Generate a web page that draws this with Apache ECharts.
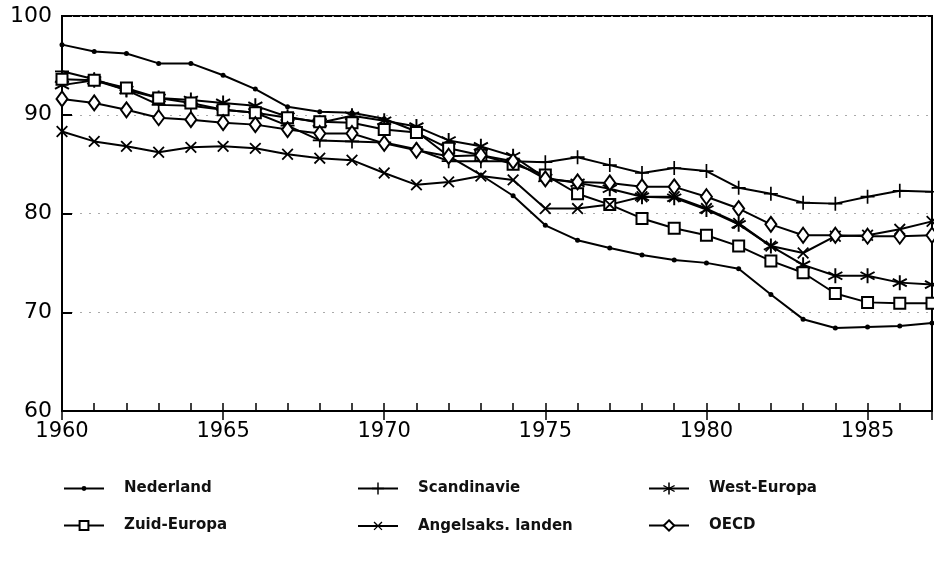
<!DOCTYPE html>
<html>
<head>
<meta charset="utf-8">
<script src="https://cdn.jsdelivr.net/npm/echarts@6/dist/echarts.min.js"></script>
<style>
  html, body { margin: 0; padding: 0; background: #fff; }
  #chart { width: 934px; height: 566px; }
</style>
</head>
<body>
<div id="chart"></div>
<script>
// jaren 1960 - 1987
const years = []
for (let y = 1960; y <= 1987; y++) years.push(y)

const nederland = [97.1, 96.4, 96.2, 95.2, 95.2, 94.0, 92.6, 90.8, 90.3, 90.2, 89.6, 88.3, 85.8, 83.9, 81.8, 78.8, 77.3, 76.5, 75.8, 75.3, 75.0, 74.4, 71.8, 69.3, 68.4, 68.5, 68.6, 68.9]
const scandinavie = [94.4, 93.6, 92.5, 91.0, 90.9, 90.5, 90.2, 88.9, 87.4, 87.3, 87.2, 86.5, 85.3, 85.3, 85.3, 85.2, 85.7, 84.9, 84.1, 84.6, 84.3, 82.6, 82.0, 81.1, 81.0, 81.7, 82.3, 82.2]
const westEuropa = [93.0, 93.5, 92.5, 91.7, 91.5, 91.2, 90.9, 89.8, 89.2, 89.9, 89.4, 88.8, 87.4, 86.8, 85.8, 83.6, 83.1, 82.5, 81.7, 81.6, 80.4, 78.9, 76.7, 74.8, 73.7, 73.7, 73.0, 72.8]
const zuidEuropa = [93.6, 93.5, 92.7, 91.7, 91.2, 90.5, 90.2, 89.7, 89.3, 89.2, 88.5, 88.2, 86.6, 85.9, 85.0, 83.9, 82.0, 80.9, 79.5, 78.5, 77.8, 76.7, 75.2, 74.0, 71.9, 71.0, 70.9, 70.9]
const angelsaks = [88.3, 87.3, 86.8, 86.2, 86.7, 86.8, 86.6, 86.0, 85.6, 85.4, 84.1, 82.9, 83.2, 83.8, 83.4, 80.5, 80.5, 80.9, 81.7, 81.7, 80.5, 79.0, 76.7, 76.0, 77.7, 77.8, 78.4, 79.2]
const oecd = [91.6, 91.2, 90.5, 89.7, 89.5, 89.2, 89.0, 88.5, 88.1, 88.1, 87.1, 86.4, 85.8, 85.9, 85.3, 83.5, 83.2, 83.1, 82.7, 82.7, 81.7, 80.5, 78.9, 77.8, 77.8, 77.7, 77.7, 77.8]

const yTicks = [60, 70, 80, 90, 100]

// markers
const plusPath = 'path://M4.4,0 H5.6 V4.4 H10 V5.6 H5.6 V10 H4.4 V5.6 H0 V4.4 H4.4 Z'
const starPath = 'path://M4.4,0 H5.6 V10 H4.4 Z M0.37,3.02 L0.97,1.98 L9.63,6.98 L9.03,8.02 Z M0.37,6.98 L9.03,1.98 L9.63,3.02 L0.97,8.02 Z'

const font = 'DejaVu Sans'

function pairs(vals) {
  return vals.map((v, i) => [years[i], v])
}

function line(name, vals, symbol, size, extra) {
  return Object.assign({
    name: name,
    type: 'line',
    data: pairs(vals),
    symbol: symbol,
    symbolSize: size,
    showAllSymbol: true,
    lineStyle: { color: '#000', width: 2 },
    itemStyle: { color: '#000' },
    emphasis: { disabled: true },
    animation: false,
  }, extra || {})
}

const series = [
  line('Nederland', nederland, 'circle', 5),
  line('Scandinavie', scandinavie, plusPath, 14),
  line('West-Europa', westEuropa, starPath, 15),
  line('Zuid-Europa', zuidEuropa, 'rect', 11, { itemStyle: { color: '#fff', borderColor: '#000', borderWidth: 2 } }),
  line('Angelsaks. landen', angelsaks, plusPath, 15, { symbolRotate: 45 }),
  line('OECD', oecd, 'diamond', [11, 15], { itemStyle: { color: '#fff', borderColor: '#000', borderWidth: 2 } }),
]

// legenda: 3 kolommen, 2 rijen; icoongrootte per reeks
const legendCols = [63, 357, 648]
const legendRows = [488, 525]
const legendIconH = [6, 15, 15, 11, 14, 13]
const legends = series.map((s, i) => ({
  data: [s.name],
  left: legendCols[i % 3],
  top: legendRows[Math.floor(i / 3)] - 7,
  padding: 0,
  itemWidth: 40,
  itemHeight: legendIconH[i],
  selectedMode: false,
  textStyle: { fontFamily: font, fontSize: 15, fontWeight: 'bold', color: '#111', padding: [0, 0, 0, 15] },
}))

const myChart = echarts.init(document.getElementById('chart'))
const option = {
  backgroundColor: '#fff',
  animation: false,
  grid: {
    left: 62,
    right: 2,
    top: 16,
    bottom: 155,
    show: true,
    borderColor: '#000',
    borderWidth: 2,
  },
  legend: legends,
  xAxis: [
    {
      type: 'value',
      min: 1960,
      max: 1987,
      interval: 1,
      axisLine: { show: true, lineStyle: { color: '#000', width: 2 } },
      axisTick: { show: true, inside: true, length: 8, lineStyle: { color: '#000', width: 1.5 } },
      axisLabel: {
        fontFamily: font,
        fontSize: 21,
        color: '#000',
        margin: 10,
        showMaxLabel: false,
        formatter: (v) => (v % 5 === 0 ? String(v) : ''),
      },
      splitLine: { show: false },
    },
    {
      type: 'value',
      min: 1960,
      max: 1987,
      interval: 5,
      position: 'bottom',
      axisLine: { show: false },
      axisTick: { show: true, inside: false, length: 9, lineStyle: { color: '#000', width: 1.5 } },
      axisLabel: { show: false },
      splitLine: { show: false },
    },
  ],
  yAxis: {
    type: 'value',
    min: yTicks[0],
    max: yTicks[yTicks.length - 1],
    interval: 10,
    axisLine: { show: true, lineStyle: { color: '#000', width: 2 } },
    axisTick: { show: true, inside: true, length: 10, lineStyle: { color: '#000', width: 2 } },
    axisLabel: { fontFamily: font, fontSize: 22, color: '#000', margin: 10 },
    splitLine: { show: true, lineStyle: { color: '#aaa', type: [2, 7], width: 1 } },
  },
  series: series,
}
myChart.setOption(option)
</script>
</body>
</html>
